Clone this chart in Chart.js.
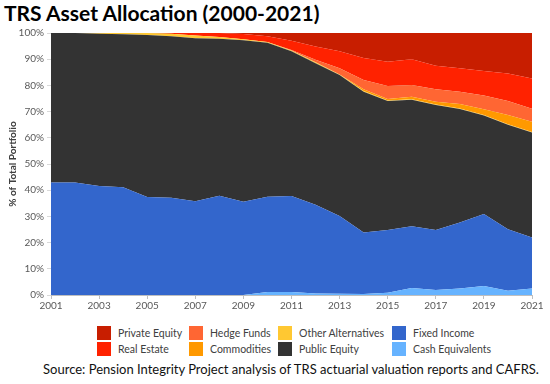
<!DOCTYPE html>
<html>
<head>
<meta charset="utf-8">
<script src="https://cdn.jsdelivr.net/npm/chart.js@4.4.1/dist/chart.umd.min.js"></script>
<style>
  body { margin: 0; width: 550px; height: 384px; background: #fff; font-family: Lato, sans-serif; position: relative; overflow: hidden; }
  #title { position: absolute; left: 4px; top: 0px; font-size: 21px; font-weight: bold; color: #000; white-space: nowrap; }
  #wrap { position: absolute; left: 0; top: 0; width: 550px; height: 318px; }
  #legend { position: absolute; top: 326px; left: 0; width: 550px; height: 32px; }
  .item { position: absolute; height: 14px; font-size: 10.5px; color: #404040; line-height: 14px; white-space: nowrap; }
  .item .box { position: absolute; left: 0; top: 0; width: 14px; height: 14px; }
  .item .txt { position: absolute; left: 21px; top: 0; }
  #source { position: absolute; top: 361px; left: 0; width: 550px; padding-left: 32px; box-sizing: border-box; text-align: center; font-size: 13px; color: #111; white-space: nowrap; }
</style>
</head>
<body>
<div id="title">TRS Asset Allocation (2000-2021)</div>
<div id="wrap"><canvas id="chart"></canvas></div>
<div id="legend"></div>
<div id="source">Source: Pension Integrity Project analysis of TRS actuarial valuation reports and CAFRS.</div>
<script>
// years on the x axis
const years = ["2001", "2002", "2003", "2004", "2005", "2006", "2007", "2008", "2009", "2010", "2011",
               "2012", "2013", "2014", "2015", "2016", "2017", "2018", "2019", "2020", "2021"];

// shares of total portfolio (%)
const cashEquivalents  = [0, 0, 0, 0, 0, 0, 0, 0, 0, 1.1, 1.1, 0.6, 0.5, 0.4, 0.9, 2.7, 1.9, 2.5, 3.4, 1.6, 2.5];
const fixedIncome      = [42.9, 42.9, 41.6, 41.1, 37.4, 37.1, 35.8, 37.9, 35.6, 36.4, 36.7, 33.8, 29.7, 23.5, 23.9, 23.5, 22.9, 25.2, 27.5, 23.5, 19.4];
const publicEquity     = [57.1, 57.1, 58.1, 58.4, 61.8, 61.7, 62.2, 59.9, 61.6, 58.8, 55.2, 54.1, 53.8, 53.7, 49.2, 48.3, 47.7, 43.3, 37.6, 39.9, 40.1];
const otherAlternatives = [0, 0, 0.3, 0.5, 0.8, 0.9, 1.0, 0.7, 0.4, 0.3, 0.3, 0.3, 0.2, 0.3, 0.2, 0.2, 0.2, 0.2, 0.2, 0.2, 0.2];
const commodities      = [0, 0, 0, 0, 0, 0, 0, 0, 0, 0, 0, 0, 0, 0.6, 0.6, 1.0, 1.1, 1.7, 2.2, 3.5, 3.9];
const hedgeFunds       = [0, 0, 0, 0, 0, 0, 0, 0, 0, 0, 0.2, 1.0, 2.3, 3.6, 5.0, 4.5, 4.7, 4.7, 5.2, 5.3, 5.0];
const realEstate       = [0, 0, 0, 0, 0, 0.3, 1.0, 1.5, 2.0, 2.2, 3.5, 5.0, 6.5, 8.4, 9.2, 9.8, 9.0, 8.9, 9.4, 10.5, 11.5];
const privateEquity    = [0, 0, 0, 0, 0, 0, 0, 0, 0.4, 1.2, 3.0, 5.2, 7.0, 9.5, 11.0, 10.0, 12.5, 13.5, 14.5, 15.5, 17.4];

const yTicks = [0, 10, 20, 30, 40, 50, 60, 70, 80, 90, 100];

// stack order, bottom to top
const series = [
    { label: "Cash Equivalents", data: cashEquivalents, color: "#66b3ff" },
    { label: "Fixed Income", data: fixedIncome, color: "#3366cc" },
    { label: "Public Equity", data: publicEquity, color: "#333333" },
    { label: "Other Alternatives", data: otherAlternatives, color: "#ffc832" },
    { label: "Commodities", data: commodities, color: "#ff9900" },
    { label: "Hedge Funds", data: hedgeFunds, color: "#ff6633" },
    { label: "Real Estate", data: realEstate, color: "#ff2200" },
    { label: "Private Equity", data: privateEquity, color: "#c81e00" },
];

// legend grid: [label, column, row]
const legendOrder = [
    ["Private Equity", 0, 0], ["Real Estate", 0, 1],
    ["Hedge Funds", 1, 0], ["Commodities", 1, 1],
    ["Other Alternatives", 2, 0], ["Public Equity", 2, 1],
    ["Fixed Income", 3, 0], ["Cash Equivalents", 3, 1],
];
const legendCols = [97, 189, 278, 392];

const legendEl = document.getElementById("legend");
legendOrder.forEach(([label, col, row]) => {
    const s = series.find((d) => d.label === label);
    const item = document.createElement("div");
    item.className = "item";
    item.style.left = legendCols[col] + "px";
    item.style.top = row * 16 + "px";
    item.innerHTML = `<span class="box" style="background:${s.color}"></span><span class="txt">${label}</span>`;
    legendEl.appendChild(item);
});

const tickFont = { family: "Lato", size: 10 };

new Chart(document.getElementById("chart").getContext("2d"), {
    type: "line",
    data: {
        labels: years,
        datasets: series.map((s, i) => ({
            label: s.label,
            data: s.data,
            backgroundColor: s.color,
            borderColor: s.color,
            borderWidth: 0,
            pointRadius: 0,
            tension: 0,
            fill: i === 0 ? "origin" : "-1",
        })),
    },
    options: {
        responsive: true,
        maintainAspectRatio: false,
        animation: false,
        layout: { padding: { top: 33, right: 18, bottom: 0, left: 0 } },
        plugins: {
            legend: { display: false },
            tooltip: { enabled: false },
        },
        scales: {
            x: {
                ticks: {
                    font: tickFont,
                    color: "#595959",
                    autoSkip: false,
                    maxRotation: 0,
                    padding: 1,
                    callback: (v, i) => (i % 2 === 0 ? years[i] : ""),
                },
                grid: {
                    drawOnChartArea: false,
                    tickLength: 4,
                    color: (c) => (c.index % 2 === 0 ? "#bfbfbf" : "rgba(0,0,0,0)"),
                },
                border: { color: "#bfbfbf" },
                afterFit: (scale) => { scale.height = 23; },
            },
            y: {
                stacked: true,
                min: 0,
                max: 100,
                afterBuildTicks: (scale) => { scale.ticks = yTicks.map((v) => ({ value: v })); },
                ticks: {
                    font: tickFont,
                    color: "#595959",
                    padding: 3,
                    callback: (v) => v + "%",
                },
                grid: { color: "#d9d9d9", tickLength: 4 },
                border: { color: "#bfbfbf" },
                title: {
                    display: true,
                    text: "% of Total Portfolio",
                    font: { family: "Lato", size: 10, weight: "bold" },
                    color: "#404040",
                    padding: { top: 7, bottom: 0 },
                },
                afterFit: (scale) => { scale.width = 51; },
            },
        },
    },
});
</script>
</body>
</html>
